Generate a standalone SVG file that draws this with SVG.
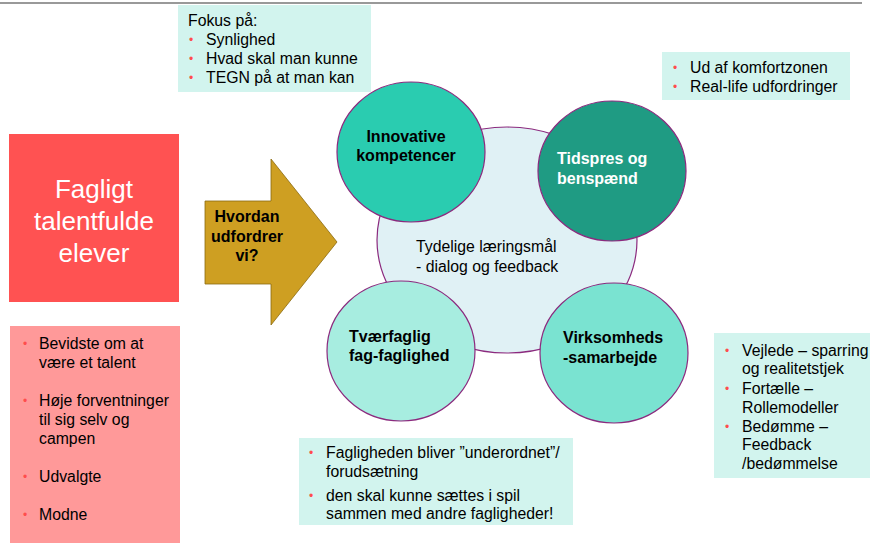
<svg xmlns="http://www.w3.org/2000/svg" width="870" height="543" viewBox="0 0 870 543">
<style>
  text { font-family: "Liberation Sans", Arial, sans-serif; fill: #000; }
  .t { font-size: 15.8px; }
  .b { font-size: 16px; font-weight: bold; }
  .bul { font-size: 12px; fill: #FF4D4D; }
  .note { fill: #D2F4EE; }
  .circ { stroke: #8B2A7E; stroke-width: 1.2; }
</style>
<rect width="870" height="543" fill="#fff"/>
<line x1="0" y1="3" x2="862" y2="3" stroke="#999" stroke-width="2"/>

<g id="fokus">
  <rect class="note" x="178" y="5" width="193" height="87"/>
  <text class="t" x="188" y="26">Fokus på:</text>
  <text class="bul" x="189" y="44">•</text><text class="t" x="206" y="45">Synlighed</text>
  <text class="bul" x="189" y="63">•</text><text class="t" x="206" y="64">Hvad skal man kunne</text>
  <text class="bul" x="189" y="82">•</text><text class="t" x="206" y="83">TEGN på at man kan</text>
</g>

<g id="komfort">
  <rect class="note" x="662" y="52" width="188" height="48"/>
  <text class="bul" x="673" y="72">•</text><text class="t" x="690" y="73">Ud af komfortzonen</text>
  <text class="bul" x="673" y="91">•</text><text class="t" x="690" y="92">Real-life udfordringer</text>
</g>

<g id="talent">
  <rect x="9" y="134" width="170" height="168" fill="#FF5252"/>
  <text x="94" y="198" text-anchor="middle" style="font-size:26px;fill:#fff">Fagligt</text>
  <text x="94" y="230" text-anchor="middle" style="font-size:26px;fill:#fff">talentfulde</text>
  <text x="94" y="262" text-anchor="middle" style="font-size:26px;fill:#fff">elever</text>
</g>

<g id="egenskaber">
  <rect x="10" y="326" width="170" height="217" fill="#FF9999"/>
  <text class="bul" x="23" y="348">•</text><text class="t" x="39" y="349">Bevidste om at</text>
  <text class="t" x="39" y="368">være et talent</text>
  <text class="bul" x="23" y="405">•</text><text class="t" x="39" y="406">Høje forventninger</text>
  <text class="t" x="39" y="425">til sig selv og</text>
  <text class="t" x="39" y="444">campen</text>
  <text class="bul" x="23" y="481">•</text><text class="t" x="39" y="482">Udvalgte</text>
  <text class="bul" x="23" y="519">•</text><text class="t" x="39" y="520">Modne</text>
</g>

<g id="pil">
  <polygon points="205,201 271,201 271,159 337,242 271,325 271,284 205,284" fill="#CE9F22" stroke="#8A6A10" stroke-width="0.8"/>
  <text class="b" x="247" y="222" text-anchor="middle">Hvordan</text>
  <text class="b" x="247" y="242" text-anchor="middle">udfordrer</text>
  <text class="b" x="247" y="261" text-anchor="middle">vi?</text>
</g>

<g id="center">
  <ellipse class="circ" cx="507" cy="240" rx="130" ry="113" fill="#E0F1F5"/>
  <text class="t" x="416" y="252">Tydelige læringsmål</text>
  <text class="t" x="416" y="272">- dialog og feedback</text>
</g>

<g id="innovative">
  <ellipse class="circ" cx="411" cy="152" rx="74" ry="70" fill="#2ACCB0"/>
  <text class="b" x="406" y="142" text-anchor="middle">Innovative</text>
  <text class="b" x="406" y="161" text-anchor="middle">kompetencer</text>
</g>

<g id="tidspres">
  <ellipse class="circ" cx="612" cy="171" rx="74" ry="70" fill="#1F9B83"/>
  <text class="b" x="557" y="164" style="fill:#fff">Tidspres og</text>
  <text class="b" x="557" y="184" style="fill:#fff">benspænd</text>
</g>

<g id="tvaerfaglig">
  <ellipse class="circ" cx="401" cy="351" rx="74" ry="70" fill="#A7EDE0"/>
  <text class="b" x="349" y="342">Tværfaglig</text>
  <text class="b" x="349" y="361">fag-faglighed</text>
</g>

<g id="virksomhed">
  <ellipse class="circ" cx="614" cy="353" rx="74" ry="70" fill="#7AE3D1"/>
  <text class="b" x="563" y="343">Virksomheds</text>
  <text class="b" x="563" y="363">-samarbejde</text>
</g>

<g id="faglighed">
  <rect class="note" x="299" y="438" width="274" height="87"/>
  <text class="bul" x="309" y="457">•</text><text class="t" x="326" y="458">Fagligheden bliver ”underordnet”/</text>
  <text class="t" x="326" y="477">forudsætning</text>
  <text class="bul" x="309" y="500">•</text><text class="t" x="326" y="501">den skal kunne sættes i spil</text>
  <text class="t" x="326" y="519">sammen med andre fagligheder!</text>
</g>

<g id="vejlede">
  <rect class="note" x="714" y="333" width="156" height="145"/>
  <text class="bul" x="725" y="355">•</text><text class="t" x="742" y="356">Vejlede – sparring</text>
  <text class="t" x="742" y="374">og realitetstjek</text>
  <text class="bul" x="725" y="393">•</text><text class="t" x="742" y="394">Fortælle –</text>
  <text class="t" x="742" y="413">Rollemodeller</text>
  <text class="bul" x="725" y="431">•</text><text class="t" x="742" y="432">Bedømme –</text>
  <text class="t" x="742" y="450">Feedback</text>
  <text class="t" x="742" y="469">/bedømmelse</text>
</g>

<g id="connectors"></g>
</svg>
